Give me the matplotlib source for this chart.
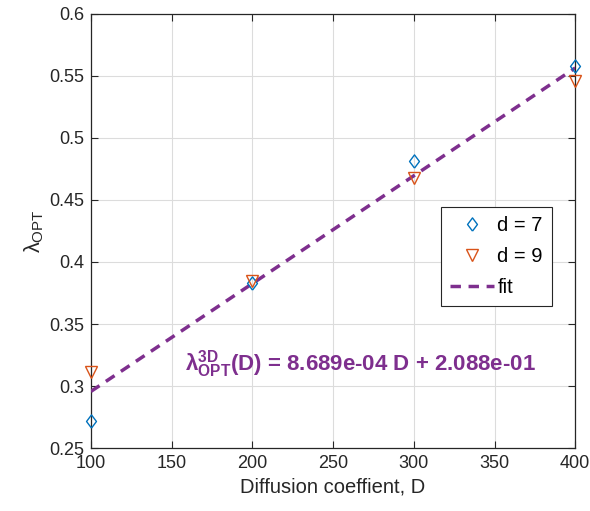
import matplotlib.pyplot as plt
import numpy as np

plt.rcParams['font.family'] = ['Liberation Sans', 'DejaVu Sans']
plt.rcParams['mathtext.fontset'] = 'custom'
plt.rcParams['mathtext.rm'] = 'Liberation Sans'
plt.rcParams['mathtext.it'] = 'Liberation Sans:italic'
plt.rcParams['mathtext.bf'] = 'Liberation Sans:bold'

# data
D = [100, 200, 300, 400]
lam_d7 = [0.272, 0.383, 0.481, 0.558]
lam_d9 = [0.311, 0.385, 0.468, 0.546]
fit_slope = 8.689e-04
fit_icpt = 2.088e-01

blue = '#0072BD'
orange = '#D95319'
purple = '#7E2F8E'
axcol = '#262626'

# matlab-ish diamond (a bit narrower than tall)
diamond = [(0, -1), (0.75, 0), (0, 1), (-0.75, 0), (0, -1)]

fig = plt.figure(figsize=(5.9, 5.11), dpi=100)
ax = fig.add_axes([0.154, 0.123, 0.821, 0.850])

ax.plot(D, lam_d7, linestyle='none', marker=diamond, markersize=9.5, mfc='none',
        mec=blue, mew=1.0, label='d = 7', clip_on=False, zorder=4)
ax.plot(D, lam_d9, linestyle='none', marker='v', markersize=8, mfc='none',
        mec=orange, mew=1.0, label='d = 9', clip_on=False, zorder=4)
xf = np.array([D[0], D[-1]])
ax.plot(xf, fit_slope * xf + fit_icpt, '--', color=purple, lw=2.5,
        dashes=(3, 2.2), label='fit', zorder=3)

ax.set_xlim(100, 400)
ax.set_ylim(0.25, 0.6)
ax.set_xticks(np.arange(100, 401, 50))
ax.set_yticks(np.arange(0.25, 0.601, 0.05))
ax.set_yticklabels(['0.25', '0.3', '0.35', '0.4', '0.45', '0.5', '0.55', '0.6'])
ax.grid(True, color='#dcdcdc', lw=0.8)
ax.set_axisbelow(True)
for s in ax.spines.values():
    s.set_color(axcol)
    s.set_linewidth(0.9)
ax.tick_params(direction='in', length=5, width=0.8, colors=axcol,
               labelsize=13, top=True, right=True, pad=5)

ax.set_xlabel('Diffusion coeffient, D', fontsize=14.5, color=axcol)
ax.set_ylabel(r'$\mathrm{\lambda_{OPT}}$', fontsize=15.5, color=axcol, labelpad=2)

ax.text(158, 0.318,
        r'$\mathbf{\lambda^{3D}_{OPT}}$' + '(D) = %.3e D + %.3e' % (fit_slope, fit_icpt),
        color=purple, fontsize=16, fontweight='bold', ha='left', va='center')

leg = ax.legend(loc='upper left', bbox_to_anchor=(0.723, 0.555), fontsize=14.5,
                fancybox=False, edgecolor=axcol, framealpha=1,
                handlelength=2.2, handletextpad=0.15, labelspacing=0.6,
                borderpad=0.45, borderaxespad=0)
leg.get_frame().set_linewidth(0.8)

fig.savefig('out.png', dpi=100)
